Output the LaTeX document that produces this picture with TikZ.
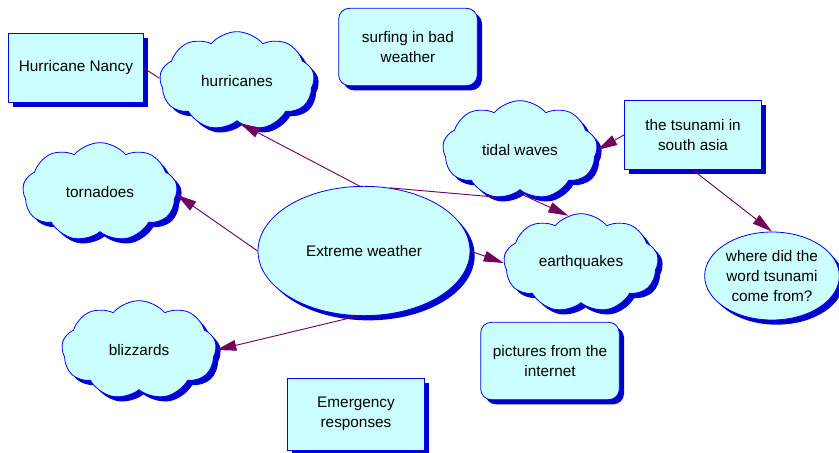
\documentclass[tikz,border=0pt]{standalone}
\usepackage{fontspec}
\setmainfont{Liberation Sans}
\usepackage{xcolor}
\definecolor{cmfill}{RGB}{204,255,255}
\definecolor{cmline}{RGB}{0,0,255}
\definecolor{cmshadow}{RGB}{0,0,205}
\definecolor{cmlink}{RGB}{115,0,95}
\usetikzlibrary{shapes.symbols,shapes.geometric,shadows,arrows.meta}
\tikzset{
  concept/.style={draw=cmline,fill=cmfill,line width=0.6pt,align=center,text=black,
    font=\fontsize{11.5}{15}\selectfont,
    drop shadow={shadow xshift=3.5pt,shadow yshift=-3.5pt,fill=cmshadow,opacity=1}},
  puff/.style={concept,cloud,cloud puffs=9,cloud puff arc=100,aspect=1.6,inner sep=0pt,
    minimum width=116pt,minimum height=74pt},
  box/.style={concept,rectangle,minimum width=103pt,minimum height=52pt},
  rbox/.style={concept,rectangle,rounded corners=8pt,minimum width=104pt,minimum height=58pt},
  oval/.style={concept,ellipse},
  link/.style={draw=cmlink,line width=0.7pt,-{Triangle[length=15pt,width=8pt]}},
  plainlink/.style={draw=cmlink,line width=0.7pt}
}

\begin{document}
\begin{tikzpicture}[x=0.75pt,y=-0.75pt]
\useasboundingbox[fill=white] (0,0) rectangle (839,453);
\node[box,minimum width=101pt] (nancy) at (76,68) {Hurricane Nancy};
\node[puff] (hur) at (237,81) {hurricanes};
\node[rbox] (surf) at (408,47) {surfing in bad\\weather};
\node[puff] (tid) at (520,150) {tidal waves};
\node[box] (tsu) at (693,135) {the tsunami in\\south asia};
\node[puff] (tor) at (100,192) {tornadoes};
\node[oval,minimum width=159pt,minimum height=97pt] (ext) at (364,251) {Extreme weather};
\node[puff] (eq) at (581,263) {earthquakes};
\node[oval,minimum width=101pt,minimum height=66pt,inner sep=1pt] (where) at (772,276) {where did the\\word tsunami\\come from?};
\node[puff] (bliz) at (139,350) {blizzards};
\node[rbox] (pics) at (550,361) {pictures from the\\internet};
\node[box,minimum height=54pt] (emerg) at (356,414) {Emergency\\responses};
\draw[plainlink] (nancy.east) -- (hur.178);
\draw[link] (ext.94) -- (hur.-86);
\draw[link] (ext.west) -- (tor.-2);
\draw[link] (ext.-95) -- (bliz.east);
\draw[link] (ext.east) -- (eq.west);
\draw[plainlink] (ext.68) -- (tid.-115);
\draw[link] (tid.-94) -- (eq.105);
\draw[link] (tsu.west) -- (tid.east);
\draw[link] (tsu.south) -- (where.north);
\end{tikzpicture}
\end{document}
